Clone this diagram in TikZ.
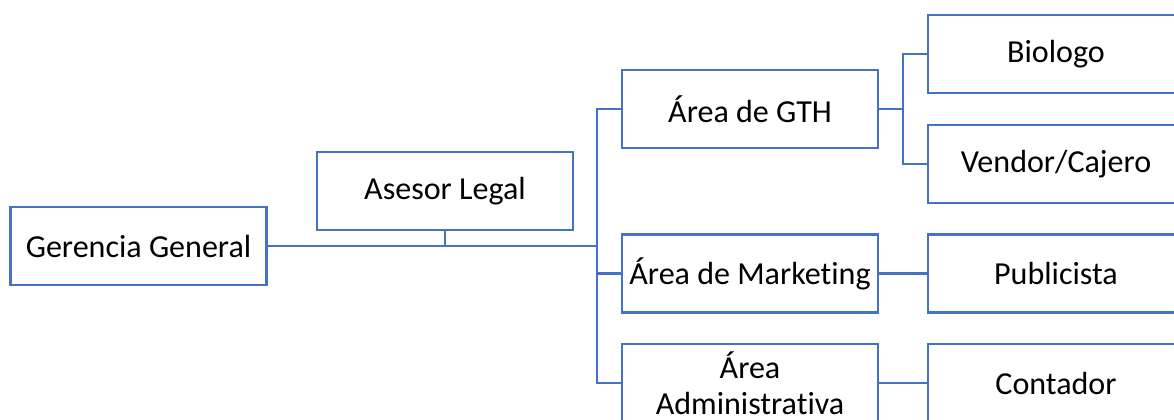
\documentclass[tikz,border=0pt]{standalone}
\usepackage{fontspec}
\setmainfont[Ligatures=NoCommon]{Carlito}
\definecolor{azulorg}{RGB}{68,114,196}
\tikzset{
    caja/.style={draw=azulorg, line width=1.8pt, fill=white, minimum width=6.4cm,
        minimum height=1.95cm, inner sep=0pt, outer sep=0pt, align=center,
        font=\fontsize{22.8}{25.5}\selectfont},
    enlace/.style={draw=azulorg, line width=1.8pt}
}
\begin{document}
\begin{tikzpicture}
    % Marco de la figura
    \useasboundingbox (0,0) rectangle (29.35,10.475);
    \clip (0,0) rectangle (29.35,10.475);

    % Puntos de union
    \coordinate (jmain) at (14.925,4.325);
    \coordinate (jgth) at (22.575,7.75);

    % Gerencia y asesor
    \node[caja] (ger) at (3.4625,4.325) {Gerencia General};
    \node[caja] (ase) at (11.125,5.7) {Asesor Legal};

    % Areas
    \node[caja] (gth) at (18.75,7.75) {Área de GTH};
    \node[caja] (mkt) at (18.75,3.6375) {Área de Marketing};
    \node[caja] (adm) at (18.75,0.9) {Área\\Administrativa};

    % Puestos
    \node[caja] (bio) at (26.4,9.125) {Biologo};
    \node[caja] (ven) at (26.4,6.375) {Vendor/Cajero};
    \node[caja] (pub) at (26.4,3.6375) {Publicista};
    \node[caja] (con) at (26.4,0.9) {Contador};

    % Lineas de mando
    \draw[enlace] (ger.east) -- (jmain);
    \draw[enlace] (ase.south) -- (ase.south |- jmain);
    \draw[enlace] (gth.west) -| (jmain) |- (adm.west);
    \draw[enlace] (mkt.west) -- (mkt.west -| jmain);

    % Lineas hacia los puestos
    \draw[enlace] (gth.east) -- (jgth);
    \draw[enlace] (bio.west) -| (jgth) |- (ven.west);
    \draw[enlace] (mkt.east) -- (pub.west);
    \draw[enlace] (adm.east) -- (con.west);
\end{tikzpicture}
\end{document}
